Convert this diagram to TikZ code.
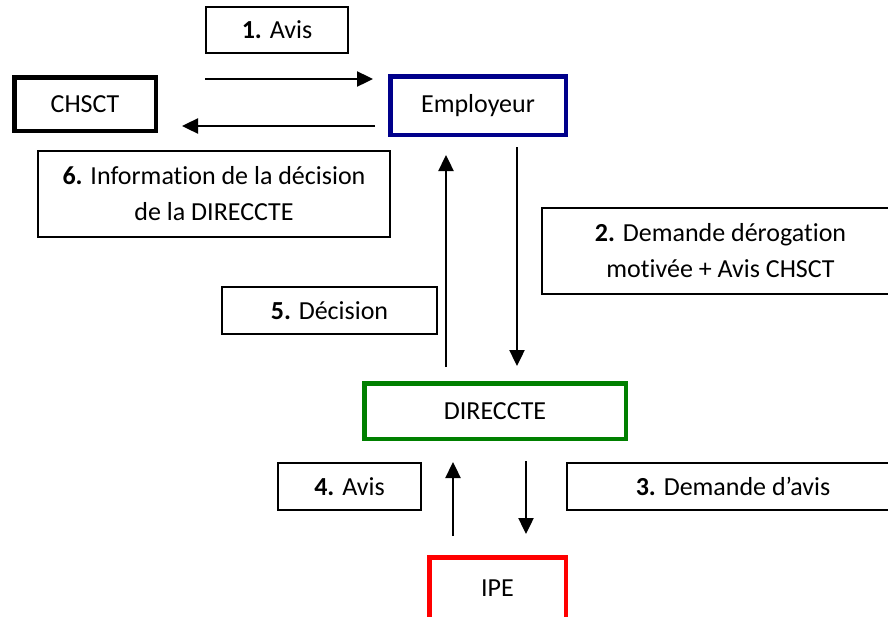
\documentclass[tikz,border=0pt]{standalone}
\usepackage{fontspec}
\setmainfont{Carlito}[Ligatures=NoCommon]
\definecolor{emplblue}{RGB}{0, 0, 139}
\definecolor{dirgreen}{RGB}{0, 128, 0}
\definecolor{ipered}{RGB}{255, 0, 0}
\usetikzlibrary{arrows.meta}

\tikzset{
  actor/.style={draw, line width=2.25pt, align=center, inner sep=0pt, font=\fontsize{13}{18}\selectfont},
  stepbox/.style={draw, line width=1pt, align=center, inner sep=0pt, font=\fontsize{13}{18}\selectfont},
  flow/.style={line width=1.2pt, -{Triangle[length=8pt, width=7.5pt]}}
}

\begin{document}
\begin{tikzpicture}[x=0.5pt, y=-0.5pt]
  \useasboundingbox (0, 0) rectangle (888, 616);

  % Actors
  \node[actor, minimum width=70.75pt, minimum height=26.75pt] (chsct) at (85, 104) {CHSCT};
  \node[actor, draw=emplblue, minimum width=87.75pt, minimum height=29.25pt] (employeur) at (478, 105.5) {Employeur};
  \node[actor, draw=dirgreen, minimum width=130.75pt, minimum height=27.75pt] (direccte) at (495, 411) {DIRECCTE};
  \node[actor, draw=ipered, minimum width=68.25pt, minimum height=30.75pt] (ipe) at (497.5, 588) {IPE};

  % Steps
  \node[stepbox, minimum width=178.5pt, minimum height=43pt] (demande2) at (720.5, 251) {\textbf{2.} Demande dérogation\\motivée + Avis CHSCT};
  \node[stepbox, minimum width=71pt, minimum height=23pt] (avis1) at (277, 30) {\textbf{1.} Avis};
  \node[stepbox, minimum width=166pt, minimum height=23.5pt] (demande3) at (733, 486.5) {\textbf{3.} Demande d’avis};
  \node[stepbox, minimum width=71.5pt, minimum height=23.5pt] (avis4) at (349.5, 486.5) {\textbf{4.} Avis};
  \node[stepbox, minimum width=107.5pt, minimum height=23.5pt] (decision5) at (329.5, 310.5) {\textbf{5.} Décision};
  \node[stepbox, minimum width=175.75pt, minimum height=43pt] (info6) at (214, 194) {\textbf{6.} Information de la décision\\de la DIRECCTE};

  % Arrow ends
  \coordinate (s1) at (205, 79);   \coordinate (e1) at (373, 79);
  \coordinate (s2) at (517, 147);  \coordinate (e2) at (517, 366);
  \coordinate (s3) at (526, 461);  \coordinate (e3) at (526, 534);
  \coordinate (s4) at (453, 536);  \coordinate (e4) at (453, 462);
  \coordinate (s5) at (446, 367);  \coordinate (e5) at (446, 155);
  \coordinate (s6) at (375, 126);  \coordinate (e6) at (182, 126);

  % Arrows
  \foreach \i in {1,...,6}
    \draw[flow] (s\i) -- (e\i);
\end{tikzpicture}
\end{document}
